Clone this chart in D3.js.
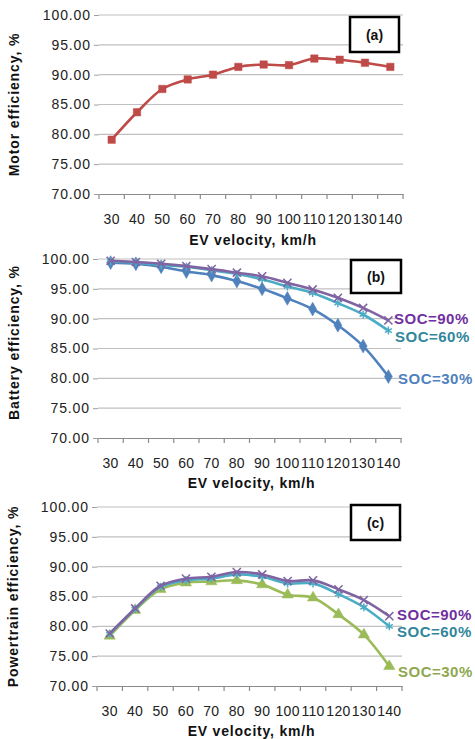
<!DOCTYPE html>
<html><head><meta charset="utf-8">
<script src="https://cdn.jsdelivr.net/npm/d3@7"></script>
<style>
html,body{margin:0;padding:0;background:#fff;}
svg{display:block;font-family:"Liberation Sans",Arial,sans-serif;}
</style></head>
<body><svg id="c" width="475" height="739"></svg>
<script>
const velocities = [30,40,50,60,70,80,90,100,110,120,130,140];
const yTicks = [70,75,80,85,90,95,100];

const motorEff = [79.1,83.7,87.6,89.2,90.0,91.3,91.7,91.6,92.7,92.5,92.0,91.3];

const batterySoc90 = [99.7,99.5,99.2,98.8,98.3,97.7,97.1,96.0,94.9,93.5,91.8,89.7];
const batterySoc60 = [99.6,99.4,99.0,98.7,98.1,97.5,96.6,95.4,94.3,92.6,90.7,88.0];
const batterySoc30 = [99.4,99.2,98.7,97.9,97.3,96.3,95.0,93.4,91.6,88.9,85.4,80.3];

const ptSoc90 = [78.8,83.0,86.8,88.0,88.3,89.1,88.7,87.6,87.7,86.2,84.4,81.7];
const ptSoc60 = [78.7,82.9,86.6,87.7,88.0,88.7,88.3,87.2,87.2,85.4,83.2,80.0];
const ptSoc30 = [78.4,82.7,86.2,87.3,87.5,87.7,87.0,85.3,84.8,82.0,78.6,73.3];

const svg = d3.select("#c");

function panel(cfg){
  const g = svg.append("g");
  const x = d3.scaleBand().domain(velocities).range([cfg.left, cfg.right]);
  const y = d3.scaleLinear().domain([70,100]).range([cfg.bottom, cfg.top]);

  g.append("g").selectAll("line").data(yTicks.filter(d=>d>70)).join("line")
    .attr("x1", cfg.left).attr("x2", cfg.right)
    .attr("y1", d=>y(d)).attr("y2", d=>y(d))
    .attr("stroke","#c0c0c0").attr("stroke-width",1.2);

  const ya = g.append("g").attr("transform",`translate(${cfg.left},0)`)
    .call(d3.axisLeft(y).tickValues(yTicks).tickFormat(d3.format(".2f")).tickSize(5).tickPadding(3));
  ya.select(".domain").remove();
  ya.selectAll("line").attr("stroke","#a0a0a0");
  ya.selectAll("text").attr("font-size",14).attr("letter-spacing",0.9).attr("fill","#222");

  const xa = g.append("g").attr("transform",`translate(0,${cfg.bottom})`)
    .call(d3.axisBottom(x).tickSize(0).tickPadding(20));
  xa.select(".domain").attr("stroke","#8a8a8a").attr("stroke-width",1.2);
  xa.selectAll("text").attr("font-size",14).attr("letter-spacing",0.3).attr("fill","#222");
  const bounds = velocities.map(v=>x(v)).concat([x(velocities[velocities.length-1])+x.bandwidth()]);
  xa.append("g").selectAll("line").data(bounds).join("line")
    .attr("x1",d=>d).attr("x2",d=>d).attr("y1",0).attr("y2",5)
    .attr("stroke","#8a8a8a").attr("stroke-width",1.2);

  g.append("text").attr("x",(cfg.left+cfg.right)/2+2).attr("y",cfg.bottom+cfg.titleDy)
    .attr("text-anchor","middle").attr("font-weight","bold").attr("font-size",14)
    .attr("letter-spacing",0.8).attr("fill","#111").text("EV velocity,  km/h");
  g.append("text").attr("transform",`translate(${cfg.ytx},${(cfg.top+cfg.bottom)/2+cfg.ytdy}) rotate(-90)`)
    .attr("text-anchor","middle").attr("font-weight","bold").attr("font-size",14)
    .attr("letter-spacing",0.9).attr("fill","#111").text(cfg.ytitle);

  const line = d3.line().x((d,i)=>x(velocities[i])+x.bandwidth()/2).y(d=>y(d)).curve(d3.curveCatmullRom.alpha(0.5));
  cfg.series.forEach(s=>{
    g.append("path").datum(s.values).attr("d",line).attr("fill","none")
      .attr("stroke",s.color).attr("stroke-width",2.6);
    const sym = d3.symbol().type(s.symbol).size(s.size);
    g.append("g").selectAll("path").data(s.values).join("path")
      .attr("transform",(d,i)=>`translate(${x(velocities[i])+x.bandwidth()/2},${y(d)})`)
      .attr("d",sym())
      .attr("fill", s.stroked ? "none" : s.color)
      .attr("stroke", s.color).attr("stroke-width", s.stroked?1.5:0.5);
    if(s.label){
      g.append("text").attr("x",s.lx).attr("y",s.ly).attr("dominant-baseline","middle")
        .attr("font-weight","bold").attr("font-size",15).attr("letter-spacing",0.5)
        .attr("fill",s.lcolor).text(s.label);
    }
  });

  g.append("rect").attr("x",cfg.box[0]).attr("y",cfg.box[1]).attr("width",cfg.box[2]).attr("height",cfg.box[3])
    .attr("fill","#fff").attr("stroke","#000").attr("stroke-width",2.5);
  g.append("text").attr("x",cfg.box[0]+cfg.box[2]/2).attr("y",cfg.box[1]+cfg.box[3]/2)
    .attr("text-anchor","middle").attr("dominant-baseline","central")
    .attr("font-weight","bold").attr("font-size",14).attr("fill","#111").text(cfg.tag);
}

panel({top:15,bottom:194,left:99,right:403,titleDy:51,ytx:19,ytdy:0,
  ytitle:"Motor efficiency,  %", tag:"(a)", box:[350,17,49,35],
  series:[{values:motorEff,color:"#BE4B48",symbol:d3.symbolSquare,size:55}]});

panel({top:259,bottom:438,left:98,right:401,titleDy:50,ytx:19,ytdy:-6,
  ytitle:"Battery efficiency,  %", tag:"(b)", box:[351,260,50,33],
  series:[
    {values:batterySoc30,color:"#4F81BD",symbol:d3.symbolDiamond,size:55,label:"SOC=30%",lcolor:"#4F81BD",lx:398,ly:380},
    {values:batterySoc60,color:"#4BACC6",symbol:d3.symbolAsterisk,size:45,stroked:true,label:"SOC=60%",lcolor:"#31869B",lx:395,ly:338},
    {values:batterySoc90,color:"#8064A2",symbol:d3.symbolTimes,size:45,stroked:true,label:"SOC=90%",lcolor:"#7030A0",lx:394,ly:320}
  ]});

panel({top:507,bottom:686,left:97,right:402,titleDy:50,ytx:18,ytdy:0,
  ytitle:"Powertrain efficiency,  %", tag:"(c)", box:[351,505,49,35],
  series:[
    {values:ptSoc30,color:"#9BBB59",symbol:d3.symbolTriangle,size:55,label:"SOC=30%",lcolor:"#8EA84F",lx:398,ly:673},
    {values:ptSoc60,color:"#4BACC6",symbol:d3.symbolAsterisk,size:45,stroked:true,label:"SOC=60%",lcolor:"#31869B",lx:397,ly:633},
    {values:ptSoc90,color:"#8064A2",symbol:d3.symbolTimes,size:45,stroked:true,label:"SOC=90%",lcolor:"#7030A0",lx:397,ly:616}
  ]});
</script></body></html>
